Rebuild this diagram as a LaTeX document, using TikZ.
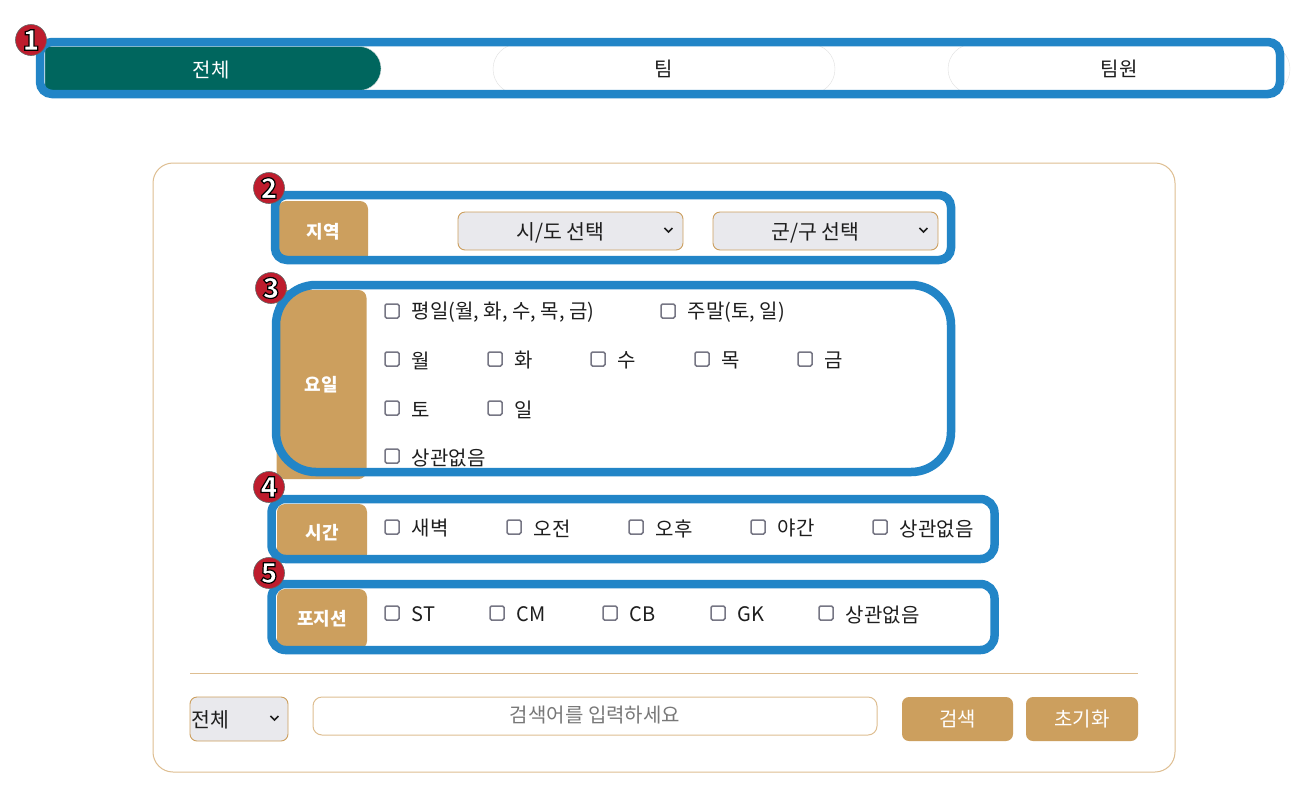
\documentclass[tikz,border=0pt]{standalone}
\usepackage{fontspec}
\setmainfont{Noto Sans CJK KR}
\usetikzlibrary{positioning}
\usetikzlibrary{shapes.misc}
\definecolor{hlblue}{RGB}{34,133,199}
\definecolor{tan}{RGB}{204,159,94}
\definecolor{panelline}{RGB}{222,190,145}
\definecolor{tabgreen}{RGB}{0,102,94}
\definecolor{badgered}{RGB}{190,28,45}
\definecolor{selfill}{RGB}{233,233,237}
\definecolor{chkgray}{RGB}{118,118,132}
\definecolor{txt}{RGB}{30,30,30}
\definecolor{hint}{RGB}{120,120,120}
\newcommand{\outlined}[1]{\special{pdf:code q 2 Tr 1.2 w 0 0 0 RG}#1\special{pdf:code Q 0 Tr}}

\begin{document}
\begin{tikzpicture}[x=1pt,y=-1pt,
  hl/.style={draw=hlblue,line width=8.5pt},
  lab/.style={fill=tan,rounded corners=8pt,text=white,minimum width=90pt,inner sep=0pt,font=\fontsize{18}{18}\selectfont\bfseries},
  tab/.style={rounded rectangle,draw=black!12,minimum width=342pt,minimum height=50pt,inner sep=0pt,text=txt,font=\fontsize{20}{20}\selectfont},
  sel/.style={draw=tan,fill=selfill,rounded corners=7pt,line width=0.9pt,minimum width=225pt,minimum height=38pt},
  seltxt/.style={text=txt,inner sep=0pt,font=\fontsize{20.5}{21}\selectfont},
  chev/.style={draw=txt,line width=1.5pt},
  chk/.style={draw=chkgray,line width=1.5pt,rounded corners=1.5pt,minimum size=14pt,inner sep=0pt},
  opt/.style={anchor=west,text=txt,inner sep=0pt,font=\fontsize{20}{20}\selectfont},
  btn/.style={fill=tan,rounded corners=7pt,minimum height=44pt,text=white,font=\fontsize{20}{20}\selectfont},
  badge/.style={circle,fill=badgered,draw=black!60,line width=0.6pt,minimum size=31pt,inner sep=0pt,text=white,font=\fontsize{28}{28}\selectfont\bfseries}]
\useasboundingbox[fill=white] (0,0) rectangle (1296,788);

% tabs
\node[tab] (tTeam) at (664,69) {팀};
\node[tab] (tMember) at (1119,69) {팀원};
\node[rounded rectangle,rounded rectangle left arc=none,fill=tabgreen,draw=black!12,minimum width=336pt,minimum height=44pt,inner sep=0pt] (tAll) at (213,68.5) {};
\node[text=white,font=\fontsize{20}{20}\selectfont] (tAllTxt) at (211,70) {전체};
\draw[hl,rounded corners=12pt] (40,42) rectangle (1280,94);
\node[badge] (n1) at (31,40) {\outlined{1}};

% search panel
\draw[panelline,line width=1pt,rounded corners=20pt] (153,163) rectangle (1175,772);

% labels
\node[lab,minimum height=62pt] (lRegion) at (323,232) {지역};
\node[lab,minimum height=189pt] (lDay) at (321.5,384.5) {요일};
\node[lab,minimum height=58pt] (lTime) at (322,533) {시간};
\node[lab,minimum height=60pt] (lPos) at (322,619) {포지션};

% region selects
\node[sel] (sido) at (570.5,231) {};
\node[seltxt] (sidoTxt) at ([xshift=-10pt,yshift=-2pt]sido.center) {시/도 선택};
\draw[chev] ([xshift=-19pt,yshift=3pt]sido.east) -- ++(4pt,-4pt) -- ++(4pt,4pt);
\node[sel] (gungu) at (825.5,231) {};
\node[seltxt] (gunguTxt) at ([xshift=-10pt,yshift=-2pt]gungu.center) {군/구 선택};
\draw[chev] ([xshift=-19pt,yshift=3pt]gungu.east) -- ++(4pt,-4pt) -- ++(4pt,4pt);

% highlight boxes
\draw[hl,rounded corners=12pt] (275,195) rectangle (951,260);
\draw[hl,rounded corners=40pt] (276,285) rectangle (951,472);
\draw[hl,rounded corners=14pt] (271.5,499) rectangle (994.5,559);
\draw[hl,rounded corners=14pt] (271.5,584) rectangle (994.5,650);
\node[badge] (n2) at (269,188) {\outlined{2}};
\node[badge] (n3) at (271,288) {\outlined{3}};
\node[badge] (n4) at (269,487) {\outlined{4}};
\node[badge] (n5) at (269,573) {\outlined{5}};

% days
\node[chk] (cWeekday) at (392,311) {};
\node[opt,right=12pt of cWeekday,yshift=-1.5pt] (tWeekday) {평일(월, 화, 수, 목, 금)};
\node[chk] (cWeekend) at (668,311) {};
\node[opt,right=12pt of cWeekend,yshift=-1.5pt] (tWeekend) {주말(토, 일)};
\node[chk] (cMon) at (392,359) {};
\node[opt,right=12pt of cMon,yshift=-1.5pt] (tMon) {월};
\node[chk] (cTue) at (495,359) {};
\node[opt,right=12pt of cTue,yshift=-1.5pt] (tTue) {화};
\node[chk] (cWed) at (598,359) {};
\node[opt,right=12pt of cWed,yshift=-1.5pt] (tWed) {수};
\node[chk] (cThu) at (702,359) {};
\node[opt,right=12pt of cThu,yshift=-1.5pt] (tThu) {목};
\node[chk] (cFri) at (805,359) {};
\node[opt,right=12pt of cFri,yshift=-1.5pt] (tFri) {금};
\node[chk] (cSat) at (392,408) {};
\node[opt,right=12pt of cSat,yshift=-1.5pt] (tSat) {토};
\node[chk] (cSun) at (495,408) {};
\node[opt,right=12pt of cSun,yshift=-1.5pt] (tSun) {일};
\node[chk] (cAnyDay) at (392,456) {};
\node[opt,right=12pt of cAnyDay,yshift=-1.5pt] (tAnyDay) {상관없음};

% time
\node[chk] (cDawn) at (392,527) {};
\node[opt,right=12pt of cDawn,yshift=-1.5pt] (tDawn) {새벽};
\node[chk] (cAm) at (514,527) {};
\node[opt,right=12pt of cAm,yshift=-1.5pt] (tAm) {오전};
\node[chk] (cPm) at (636,527) {};
\node[opt,right=12pt of cPm,yshift=-1.5pt] (tPm) {오후};
\node[chk] (cNight) at (758,527) {};
\node[opt,right=12pt of cNight,yshift=-1.5pt] (tNight) {야간};
\node[chk] (cAnyTime) at (880,527) {};
\node[opt,right=12pt of cAnyTime,yshift=-1.5pt] (tAnyTime) {상관없음};

% position
\node[chk] (cST) at (392,613) {};
\node[opt,right=12pt of cST,yshift=-1.5pt] (tST) {ST};
\node[chk] (cCM) at (497,613) {};
\node[opt,right=12pt of cCM,yshift=-1.5pt] (tCM) {CM};
\node[chk] (cCB) at (610,613) {};
\node[opt,right=12pt of cCB,yshift=-1.5pt] (tCB) {CB};
\node[chk] (cGK) at (718,613) {};
\node[opt,right=12pt of cGK,yshift=-1.5pt] (tGK) {GK};
\node[chk] (cAnyPos) at (826,613) {};
\node[opt,right=12pt of cAnyPos,yshift=-1.5pt] (tAnyPos) {상관없음};

% search row
\draw[panelline,line width=1pt] (190,673) -- (1138,673);
\node[sel,minimum width=98pt,minimum height=44pt] (kind) at (239,719) {};
\node[seltxt,anchor=west] (kindTxt) at ([xshift=2pt,yshift=-1pt]kind.west) {전체};
\draw[chev] ([xshift=-18pt,yshift=3pt]kind.east) -- ++(4pt,-4pt) -- ++(4pt,4pt);
\node[draw=panelline,line width=1pt,rounded corners=9pt,minimum width=564pt,minimum height=38pt] (query) at (595,716) {};
\node[text=hint,inner sep=0pt,font=\fontsize{20}{20}\selectfont] (queryTxt) at ([yshift=1pt]query.center) {검색어를 입력하세요};
\node[btn,minimum width=111pt] (bSearch) at (957.5,719) {검색};
\node[btn,minimum width=112pt] (bReset) at (1082,719) {초기화};

\end{tikzpicture}
\end{document}
